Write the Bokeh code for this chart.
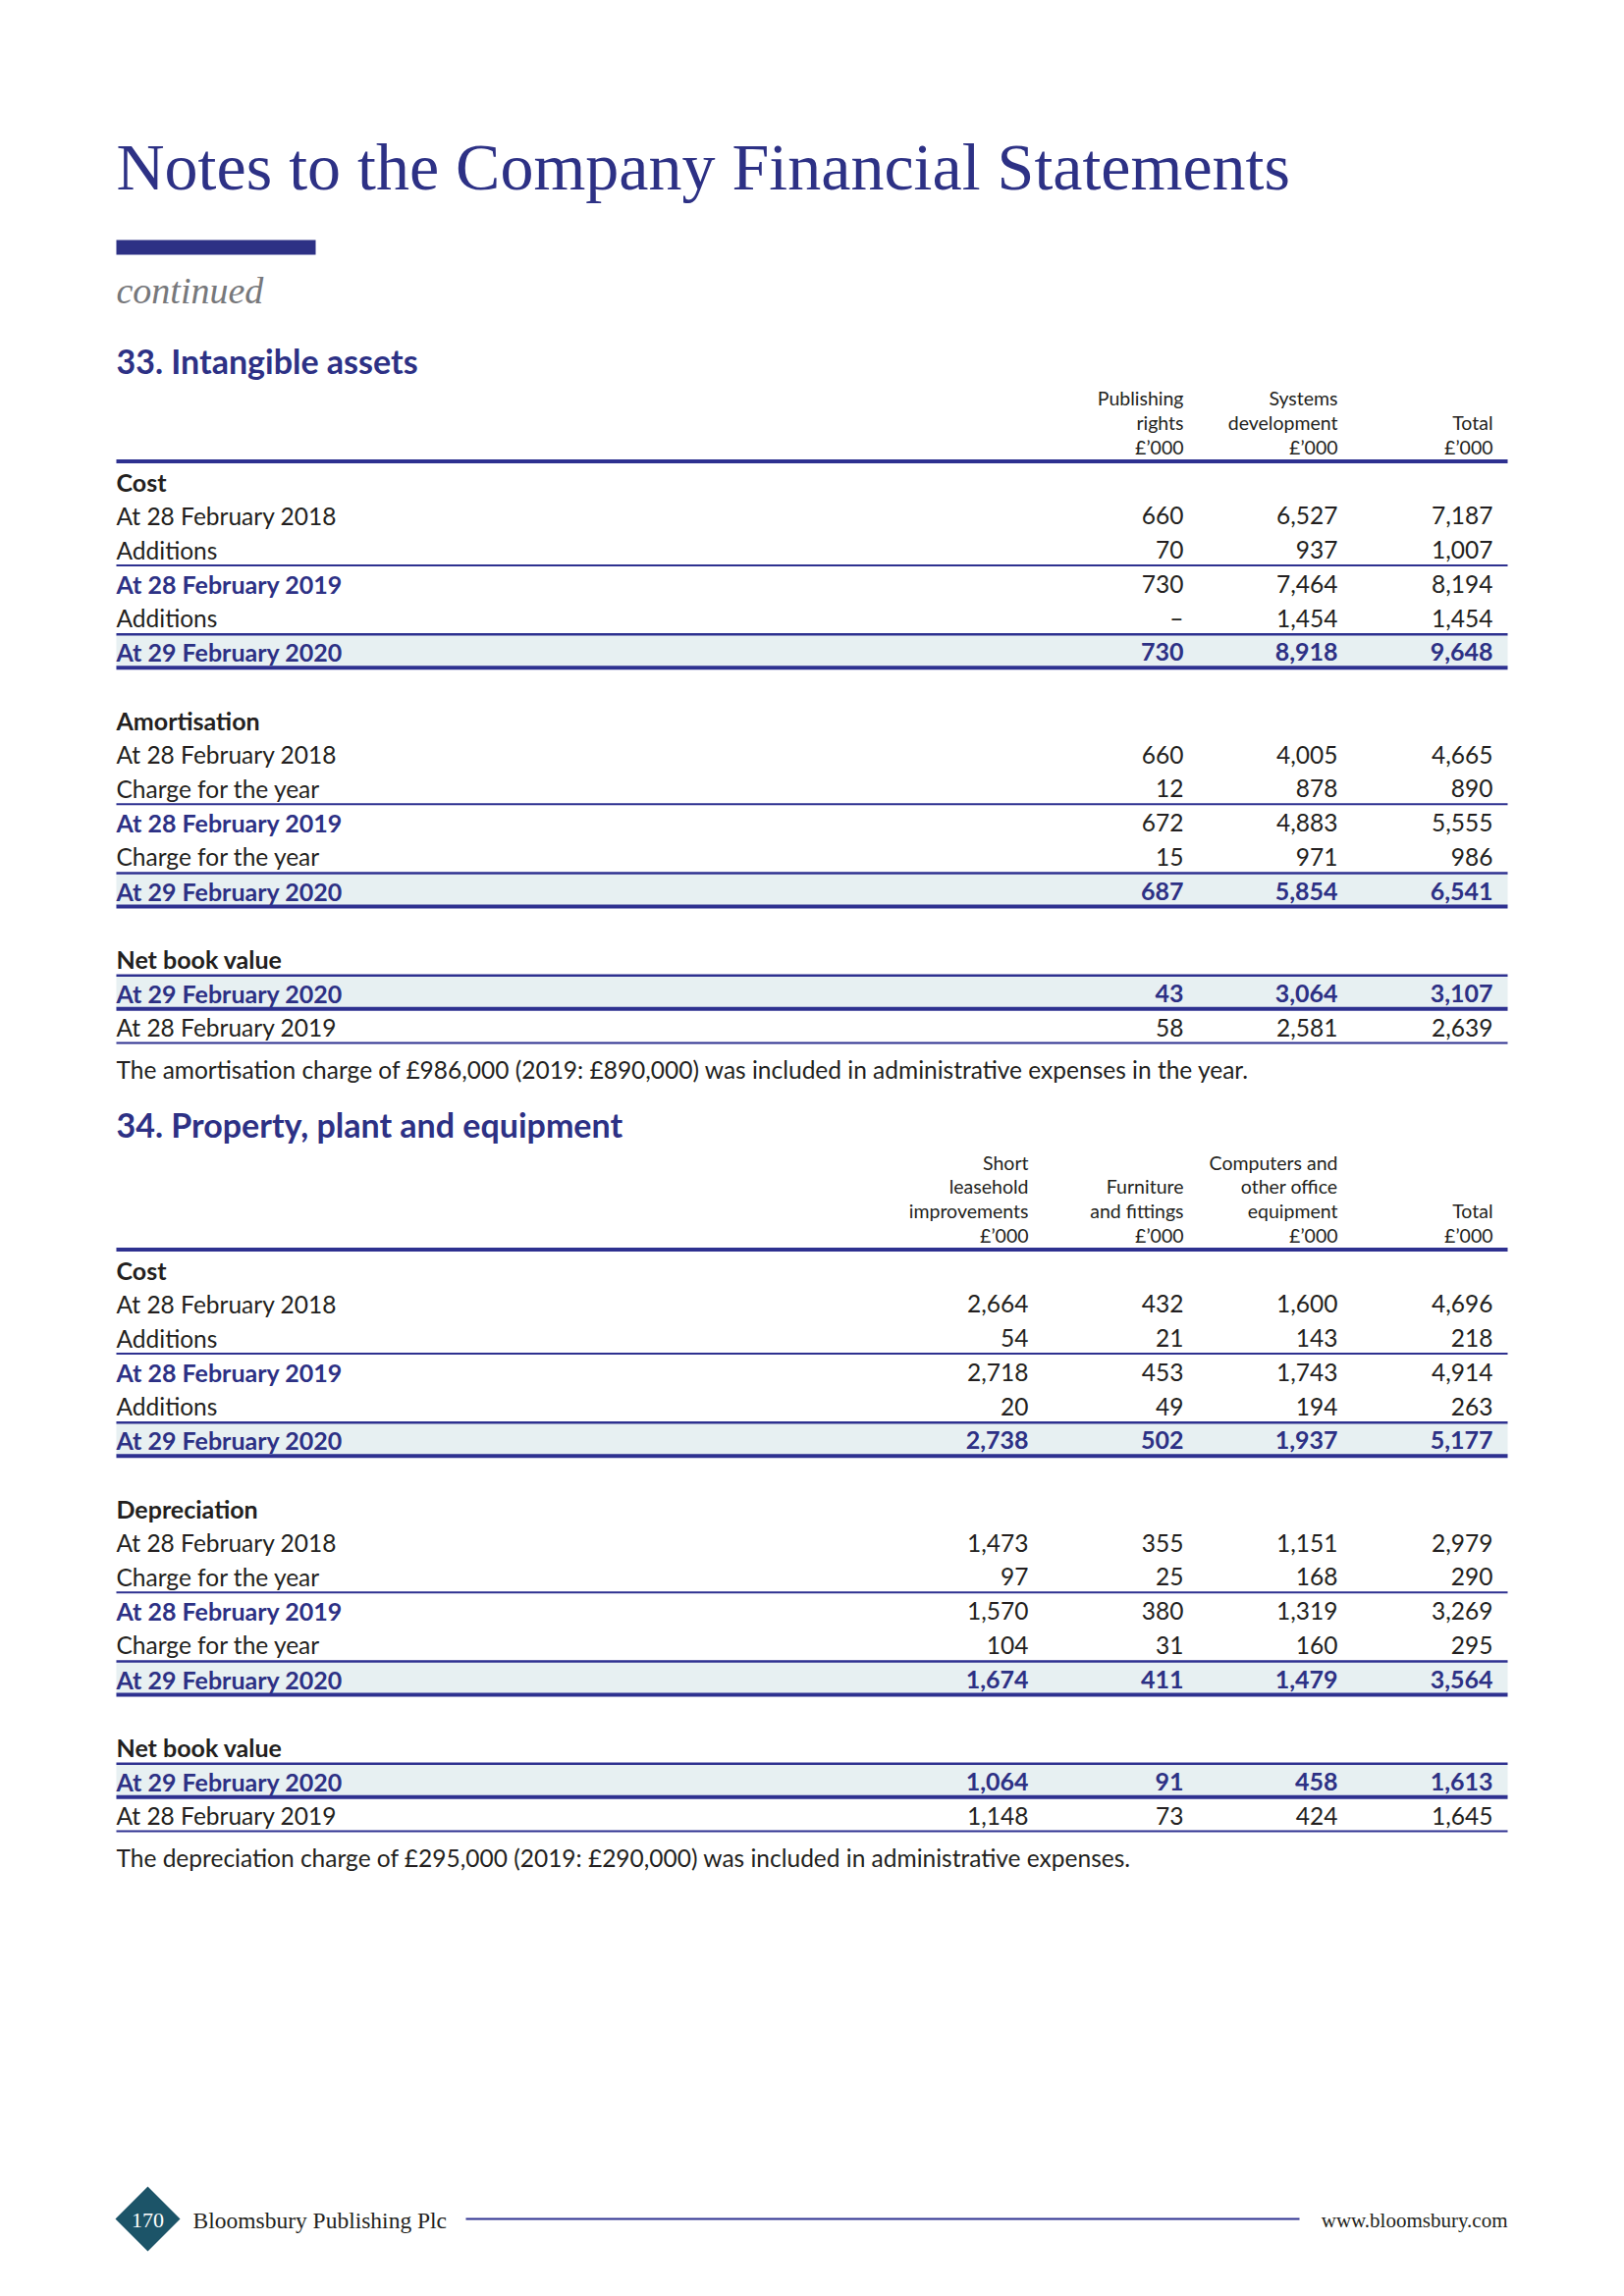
from bokeh.plotting import figure
from bokeh.models import ColumnDataSource, Range1d
from bokeh.core.properties import value
from bokeh.embed import file_html
from bokeh.resources import INLINE

# ---------------- data ----------------
page_title = "Notes to the Company Financial Statements"
page_subtitle = "continued"

t1_title = "33. Intangible assets"
t1_headers = [["Publishing", "rights", "£’000"],
              ["Systems", "development", "£’000"],
              ["Total", "£’000"]]
t1_cost_labels = ["At 28 February 2018", "Additions", "At 28 February 2019", "Additions", "At 29 February 2020"]
t1_cost_publishing = [660, 70, 730, None, 730]
t1_cost_systems = [6527, 937, 7464, 1454, 8918]
t1_cost_total = [7187, 1007, 8194, 1454, 9648]
t1_amort_labels = ["At 28 February 2018", "Charge for the year", "At 28 February 2019", "Charge for the year", "At 29 February 2020"]
t1_amort_publishing = [660, 12, 672, 15, 687]
t1_amort_systems = [4005, 878, 4883, 971, 5854]
t1_amort_total = [4665, 890, 5555, 986, 6541]
t1_nbv_labels = ["At 29 February 2020", "At 28 February 2019"]
t1_nbv_publishing = [43, 58]
t1_nbv_systems = [3064, 2581]
t1_nbv_total = [3107, 2639]
t1_note = "The amortisation charge of £986,000 (2019: £890,000) was included in administrative expenses in the year."

t2_title = "34. Property, plant and equipment"
t2_headers = [["Short", "leasehold", "improvements", "£’000"],
              ["Furniture", "and fittings", "£’000"],
              ["Computers and", "other office", "equipment", "£’000"],
              ["Total", "£’000"]]
t2_cost_labels = ["At 28 February 2018", "Additions", "At 28 February 2019", "Additions", "At 29 February 2020"]
t2_cost_leasehold = [2664, 54, 2718, 20, 2738]
t2_cost_furniture = [432, 21, 453, 49, 502]
t2_cost_computers = [1600, 143, 1743, 194, 1937]
t2_cost_total = [4696, 218, 4914, 263, 5177]
t2_dep_labels = ["At 28 February 2018", "Charge for the year", "At 28 February 2019", "Charge for the year", "At 29 February 2020"]
t2_dep_leasehold = [1473, 97, 1570, 104, 1674]
t2_dep_furniture = [355, 25, 380, 31, 411]
t2_dep_computers = [1151, 168, 1319, 160, 1479]
t2_dep_total = [2979, 290, 3269, 295, 3564]
t2_nbv_labels = ["At 29 February 2020", "At 28 February 2019"]
t2_nbv_leasehold = [1064, 1148]
t2_nbv_furniture = [91, 73]
t2_nbv_computers = [458, 424]
t2_nbv_total = [1613, 1645]
t2_note = "The depreciation charge of £295,000 (2019: £290,000) was included in administrative expenses."

footer_page = "170"
footer_left = "Bloomsbury Publishing Plc"
footer_right = "www.bloomsbury.com"

# ---------------- styles ----------------
NAVY = "#2d3185"
LINE = "#2e3190"
INK = "#231f20"
GREY = "#77787b"
SHADE = "#e7f0f2"
TEAL = "#1c5468"
SANS = "Lato"
SERIF = "Liberation Serif"

W, H = 1638, 2323
p = figure(width=W, height=H, x_range=Range1d(0, W), y_range=Range1d(H + 2, 2),
           output_backend="svg", toolbar_location=None, min_border=0,
           x_axis_location=None, y_axis_location=None)
p.grid.visible = False
p.outline_line_color = None
p.background_fill_color = "white"
p.border_fill_color = "white"

LEFT, RIGHT = 118, 1535
PITCH = 34.75
HPITCH = 24.8
BODY = 24.5
BOLD = 25
HEAD = 19.5


def txt(xs, ys, texts, size, color, font=SANS, style="normal", align="left", baseline="middle"):
    src = ColumnDataSource(dict(x=list(xs), y=list(ys), t=list(texts)))
    p.text(x="x", y="y", text="t", source=src, text_font=value(font),
           text_font_size=f"{size}px", text_color=color, text_font_style=style,
           text_align=align, text_baseline=baseline)


def hline(y, width, x0=LEFT, x1=RIGHT, color=LINE):
    p.segment(x0=[x0], y0=[y], x1=[x1], y1=[y], line_width=width, line_color=color)


def shade(y0, y1):
    p.quad(left=[LEFT], right=[RIGHT], top=[y0], bottom=[y1], fill_color=SHADE, line_color=None)


def fmt(v):
    return "–" if v is None else f"{v:,}"


def draw_table(title, title_y, headers, col_right, header_bottom, sections):
    txt([LEFT], [title_y], [title], 34, NAVY, style="bold", baseline="alphabetic")
    for hdr, xr in zip(headers, col_right):
        n = len(hdr)
        ys = [header_bottom - (n - 1 - i) * HPITCH for i in range(n)]
        txt([xr] * n, ys, hdr, HEAD, INK, align="right")
    thick_y = header_bottom + 14.5
    hline(thick_y, 4)
    y0 = thick_y + 20.5
    row = 0
    for sec_title, labels, cols, kinds in sections:
        ys = [y0 + (row + 1 + i) * PITCH for i in range(len(labels))]
        txt([LEFT], [y0 + row * PITCH], [sec_title], BOLD, INK, style="bold")
        for i, k in enumerate(kinds):
            if k == "total":
                shade(ys[i] - 18, ys[i] + 16)
        for i, k in enumerate(kinds):
            if k == "total":
                hline(ys[i] - 18, 2.5)
                hline(ys[i] + 16, 4)
            if k == "rule_below":
                hline(ys[i] + 16, 2)
        for i, (lab, k) in enumerate(zip(labels, kinds)):
            if k in ("total", "sub"):
                txt([LEFT], [ys[i]], [lab], BOLD, NAVY, style="bold")
            else:
                txt([LEFT], [ys[i]], [lab], BODY, INK)
        for col, xr in zip(cols, col_right):
            for i, k in enumerate(kinds):
                if k == "total":
                    txt([xr], [ys[i]], [fmt(col[i])], BOLD, NAVY, style="bold", align="right")
                else:
                    txt([xr], [ys[i]], [fmt(col[i])], BODY, INK, align="right")
        row += len(labels) + 2


# ---------------- page header ----------------
txt([LEFT], [171], [page_title], 68, NAVY, font=SERIF, baseline="alphabetic")
p.quad(left=[LEFT], right=[321], top=[246], bottom=[261], fill_color=NAVY, line_color=None)
txt([LEFT], [297], [page_subtitle], 38, GREY, font=SERIF, style="italic", baseline="alphabetic")

KINDS5 = ["plain", "rule_below", "sub", "plain", "total"]
KINDS_NBV = ["total", "rule_below"]

# ---------------- table 33 ----------------
draw_table(t1_title, 369, t1_headers, [1205, 1362, 1520], 457, [
    ("Cost", t1_cost_labels, [t1_cost_publishing, t1_cost_systems, t1_cost_total], KINDS5),
    ("Amortisation", t1_amort_labels, [t1_amort_publishing, t1_amort_systems, t1_amort_total], KINDS5),
    ("Net book value", t1_nbv_labels, [t1_nbv_publishing, t1_nbv_systems, t1_nbv_total], KINDS_NBV),
])
txt([LEFT], [1091], [t1_note], BODY, INK)

# ---------------- table 34 ----------------
draw_table(t2_title, 1147, t2_headers, [1047, 1205, 1362, 1520], 1260, [
    ("Cost", t2_cost_labels, [t2_cost_leasehold, t2_cost_furniture, t2_cost_computers, t2_cost_total], KINDS5),
    ("Depreciation", t2_dep_labels, [t2_dep_leasehold, t2_dep_furniture, t2_dep_computers, t2_dep_total], KINDS5),
    ("Net book value", t2_nbv_labels, [t2_nbv_leasehold, t2_nbv_furniture, t2_nbv_computers, t2_nbv_total], KINDS_NBV),
])
txt([LEFT], [1894], [t2_note], BODY, INK)

# ---------------- footer ----------------
cx, cy, hw, hh = 150, 2262, 33, 33
p.patch(x=[cx - hw, cx, cx + hw, cx], y=[cy, cy - hh, cy, cy + hh], fill_color=TEAL, line_color=None)
txt([cx], [cy + 1], [footer_page], 22, "white", font=SERIF, align="center")
txt([196], [cy + 1], [footer_left], 23.5, INK, font=SERIF)
hline(cy, 2, x0=474, x1=1323)
txt([RIGHT], [cy + 1], [footer_right], 21, INK, font=SERIF, align="right")

open("out.html", "w").write(file_html(p, INLINE))
